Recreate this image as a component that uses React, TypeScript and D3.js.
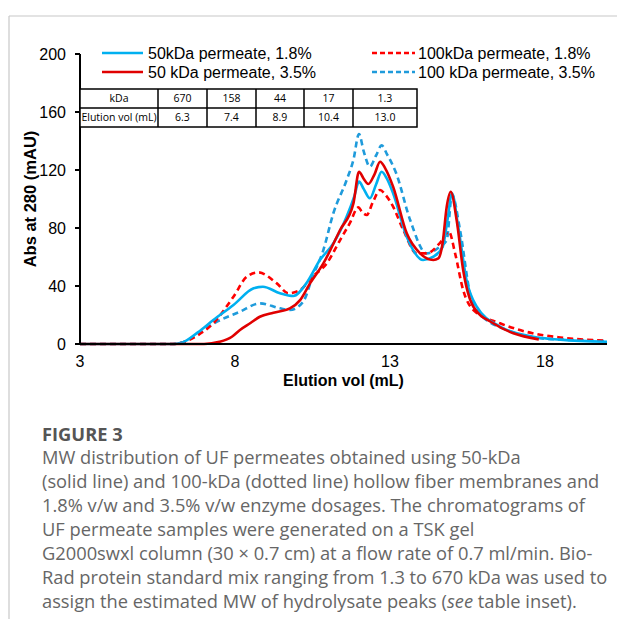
import React from "react";
import * as d3 from "d3";

// ---------- data ----------
const blueSolidX = [3, 6.0, 6.3, 6.8, 7.3, 7.95, 8.6, 8.9, 9.45, 9.88, 10.3, 10.74, 11.17, 11.6, 11.85, 12.0, 12.15, 12.35, 12.55, 12.73, 12.9, 13.1, 13.54, 14.07, 14.4, 14.7, 14.85, 15.0, 15.2, 15.47, 15.8, 16.55, 17.62, 18.5, 20];
const blueSolidY = [0, 0, 1, 8, 16.5, 26.9, 38.4, 39.5, 35, 33.1, 41.8, 57.9, 69.4, 87.8, 102, 112, 107, 100.5, 110, 118.8, 114, 103.9, 74, 57.9, 60.2, 67, 85, 104, 81, 44, 25.7, 12, 5, 3, 1.5];

const redSolidX = [3, 7.0, 7.5, 7.9, 8.16, 8.5, 8.8, 9.24, 9.77, 10.1, 10.42, 10.85, 11.39, 11.82, 12.0, 12.15, 12.3, 12.5, 12.68, 12.85, 13.1, 13.54, 13.97, 14.4, 14.56, 14.7, 14.83, 14.96, 15.15, 15.36, 15.69, 16.33, 16.98, 17.8];
const redSolidY = [0, 0, 1.5, 5, 9.7, 14.5, 18.8, 21.6, 24.6, 30.3, 41.8, 55.6, 78.6, 97, 118.8, 114, 110.3, 117, 125.7, 121, 108.5, 76.3, 62.5, 57.9, 59, 70, 94.7, 105, 85.5, 51, 25.7, 14.3, 7.4, 3.2];

const redDashX = [3, 6.0, 6.3, 6.8, 7.3, 7.95, 8.38, 8.75, 9.35, 9.72, 10.1, 10.5, 10.96, 11.39, 11.7, 11.98, 12.1, 12.25, 12.45, 12.68, 12.85, 13.1, 13.43, 13.86, 14.18, 14.6, 14.9, 15.1, 15.36, 15.69, 16.55, 17.6, 18.5, 20];
const redDashY = [0, 0, 1, 6, 14.3, 32.6, 46.4, 49.4, 41.8, 35, 37.2, 46.4, 55.6, 71.7, 83.2, 94.2, 91, 89, 98, 106.2, 103, 94.7, 78.6, 62.5, 62.5, 69.4, 77.5, 62.5, 37.2, 23.4, 14.3, 7.4, 4.5, 2.3];

const blueDashX = [3, 6.0, 6.3, 6.8, 7.3, 8.16, 8.8, 9.45, 9.77, 10.2, 10.5, 10.85, 11.17, 11.6, 11.82, 12.0, 12.15, 12.35, 12.55, 12.73, 12.9, 13.2, 13.65, 14.18, 14.6, 14.83, 15.0, 15.26, 15.58, 15.9, 16.76, 17.84, 18.8, 20];
const blueDashY = [0, 0, 1, 7, 14, 22.3, 28, 24.6, 23.4, 29.2, 46.4, 64.8, 90, 113, 127, 144.8, 133, 122.3, 130, 137, 131, 117.7, 85.5, 62.5, 67, 71.7, 102.8, 78.6, 35, 21, 9.7, 4, 2.8, 2];

const seriesNames = ["50kDa permeate, 1.8%", "50 kDa permeate, 3.5%", "100kDa permeate, 1.8%", "100 kDa permeate, 3.5%"];

const xTicks = [3, 8, 13, 18];
const yTicks = [0, 40, 80, 120, 160, 200];

const tableHeader = ["kDa", "670", "158", "44", "17", "1.3"];
const tableRow = ["Elution vol (mL)", "6.3", "7.4", "8.9", "10.4", "13.0"];

const captionTitle = "FIGURE 3";
const captionLines = [
  "MW distribution of UF permeates obtained using 50-kDa",
  "(solid line) and 100-kDa (dotted line) hollow fiber membranes and",
  "1.8% v/w and 3.5% v/w enzyme dosages. The chromatograms of",
  "UF permeate samples were generated on a TSK gel",
  "G2000swxl column (30 \u00d7 0.7 cm) at a flow rate of 0.7 ml/min. Bio-",
  "Rad protein standard mix ranging from 1.3 to 670 kDa was used to",
];
const captionLast = ["assign the estimated MW of hydrolysate peaks (", "see", " table inset)."];

// ---------- layout ----------
const W = 617, H = 619;
const x0 = 80, x1 = 607, yTop = 54, yBot = 344;

export default function App() {
  const x = d3.scaleLinear().domain([3, 20]).range([x0, x1]);
  const y = d3.scaleLinear().domain([0, 200]).range([yBot, yTop]);
  const line = d3.line<[number, number]>().x(d => x(d[0])).y(d => y(d[1])).curve(d3.curveMonotoneX);
  const mk = (xs: number[], ys: number[]) => xs.map((v, i) => [v, ys[i]] as [number, number]);

  const series = [
    { pts: mk(blueSolidX, blueSolidY), color: "#00B0F0", dash: undefined },
    { pts: mk(redSolidX, redSolidY), color: "#E00000", dash: undefined },
    { pts: mk(redDashX, redDashY), color: "#FF0000", dash: "6 4" },
    { pts: mk(blueDashX, blueDashY), color: "#1F9BDB", dash: "6 4" },
  ];

  const colX = [80, 158, 207, 256, 304, 353, 417];
  const rowY = [89, 108, 127];
  const chartFont = "'Liberation Sans', Arial, sans-serif";
  const tableFont = "'Open Sans', 'Liberation Sans', sans-serif";
  const capFont = "'Open Sans', Lato, sans-serif";
  const capSize = 18.3;

  return (
    <svg width={W} height={H} style={{ position: "absolute", left: 0, top: 0, background: "#fff" }}>
      <line x1={9} y1={16} x2={W} y2={16} stroke="#c8c8c8" strokeWidth={1.2} />
      <line x1={9} y1={16} x2={9} y2={H} stroke="#c8c8c8" strokeWidth={1.2} />

      {/* data lines (dashed drawn first) */}
      {[3, 2, 0, 1].map(i => (
        <path key={i} d={line(series[i].pts) || ""} fill="none" stroke={series[i].color}
          strokeWidth={2.6} strokeDasharray={series[i].dash} strokeLinejoin="round" />
      ))}

      {/* axes */}
      <line x1={x0} y1={yBot} x2={x1} y2={yBot} stroke="#000" strokeWidth={2} />
      <line x1={x0} y1={yTop} x2={x0} y2={yBot + 1} stroke="#000" strokeWidth={2} />
      {yTicks.map(t => (
        <g key={t}>
          <line x1={x0 - 5} x2={x0} y1={y(t)} y2={y(t)} stroke="#000" strokeWidth={2} />
          <text x={66} y={y(t)} dy="0.35em" textAnchor="end" fontFamily={chartFont} fontSize={16} fill="#000">{t}</text>
        </g>
      ))}
      {xTicks.map(t => (
        <text key={t} x={x(t)} y={367} textAnchor="middle" fontFamily={chartFont} fontSize={16} fill="#000">{t}</text>
      ))}
      <text x={(x0 + x1) / 2} y={386} textAnchor="middle" fontFamily={chartFont} fontSize={16} fontWeight="bold" fill="#000">Elution vol (mL)</text>
      <text transform={`translate(36,${(yTop + yBot) / 2}) rotate(-90)`} textAnchor="middle" fontFamily={chartFont} fontSize={16.5} fontWeight="bold" fill="#000">Abs at 280 (mAU)</text>

      {/* legend */}
      {[0, 1].map(i => (
        <g key={i}>
          <line x1={102} x2={143} y1={53 + i * 19} y2={53 + i * 19} stroke={series[i].color} strokeWidth={2.6} />
          <text x={148} y={53 + i * 19} dy="0.35em" fontFamily={chartFont} fontSize={16} fill="#000">{seriesNames[i]}</text>
        </g>
      ))}
      {[2, 3].map((i, k) => (
        <g key={i}>
          <line x1={372} x2={415} y1={53 + k * 19} y2={53 + k * 19} stroke={series[i].color} strokeWidth={2.6} strokeDasharray="5 3" />
          <text x={418} y={53 + k * 19} dy="0.35em" fontFamily={chartFont} fontSize={16} fill="#000">{seriesNames[i]}</text>
        </g>
      ))}

      {/* table inset */}
      <rect x={colX[0]} y={rowY[0]} width={colX[6] - colX[0]} height={rowY[2] - rowY[0]} fill="#fff" stroke="#000" strokeWidth={1.5} />
      <line x1={colX[0]} x2={colX[6]} y1={rowY[1]} y2={rowY[1]} stroke="#000" strokeWidth={1.5} />
      {colX.slice(1, 6).map((cx, i) => (
        <line key={i} x1={cx} x2={cx} y1={rowY[0]} y2={rowY[2]} stroke="#000" strokeWidth={1.5} />
      ))}
      {[tableHeader, tableRow].map((row, r) => row.map((cell, c) => (
        <text key={`${r}-${c}`} x={(colX[c] + colX[c + 1]) / 2} y={(rowY[r] + rowY[r + 1]) / 2} dy="0.35em"
          textAnchor="middle" fontFamily={tableFont} fontSize={10.5} fill="#000">{cell}</text>
      )))}

      {/* caption */}
      <text x={42} y={441} fontFamily={capFont} fontSize={capSize} fontWeight="bold" fill="#555">{captionTitle}</text>
      {captionLines.map((l, i) => (
        <text key={i} x={42} y={464 + i * 24} fontFamily={capFont} fontSize={capSize} fill="#666">{l}</text>
      ))}
      <text x={42} y={464 + 6 * 24} fontFamily={capFont} fontSize={capSize} fill="#666">
        {captionLast[0]}<tspan fontStyle="italic">{captionLast[1]}</tspan>{captionLast[2]}
      </text>
    </svg>
  );
}
